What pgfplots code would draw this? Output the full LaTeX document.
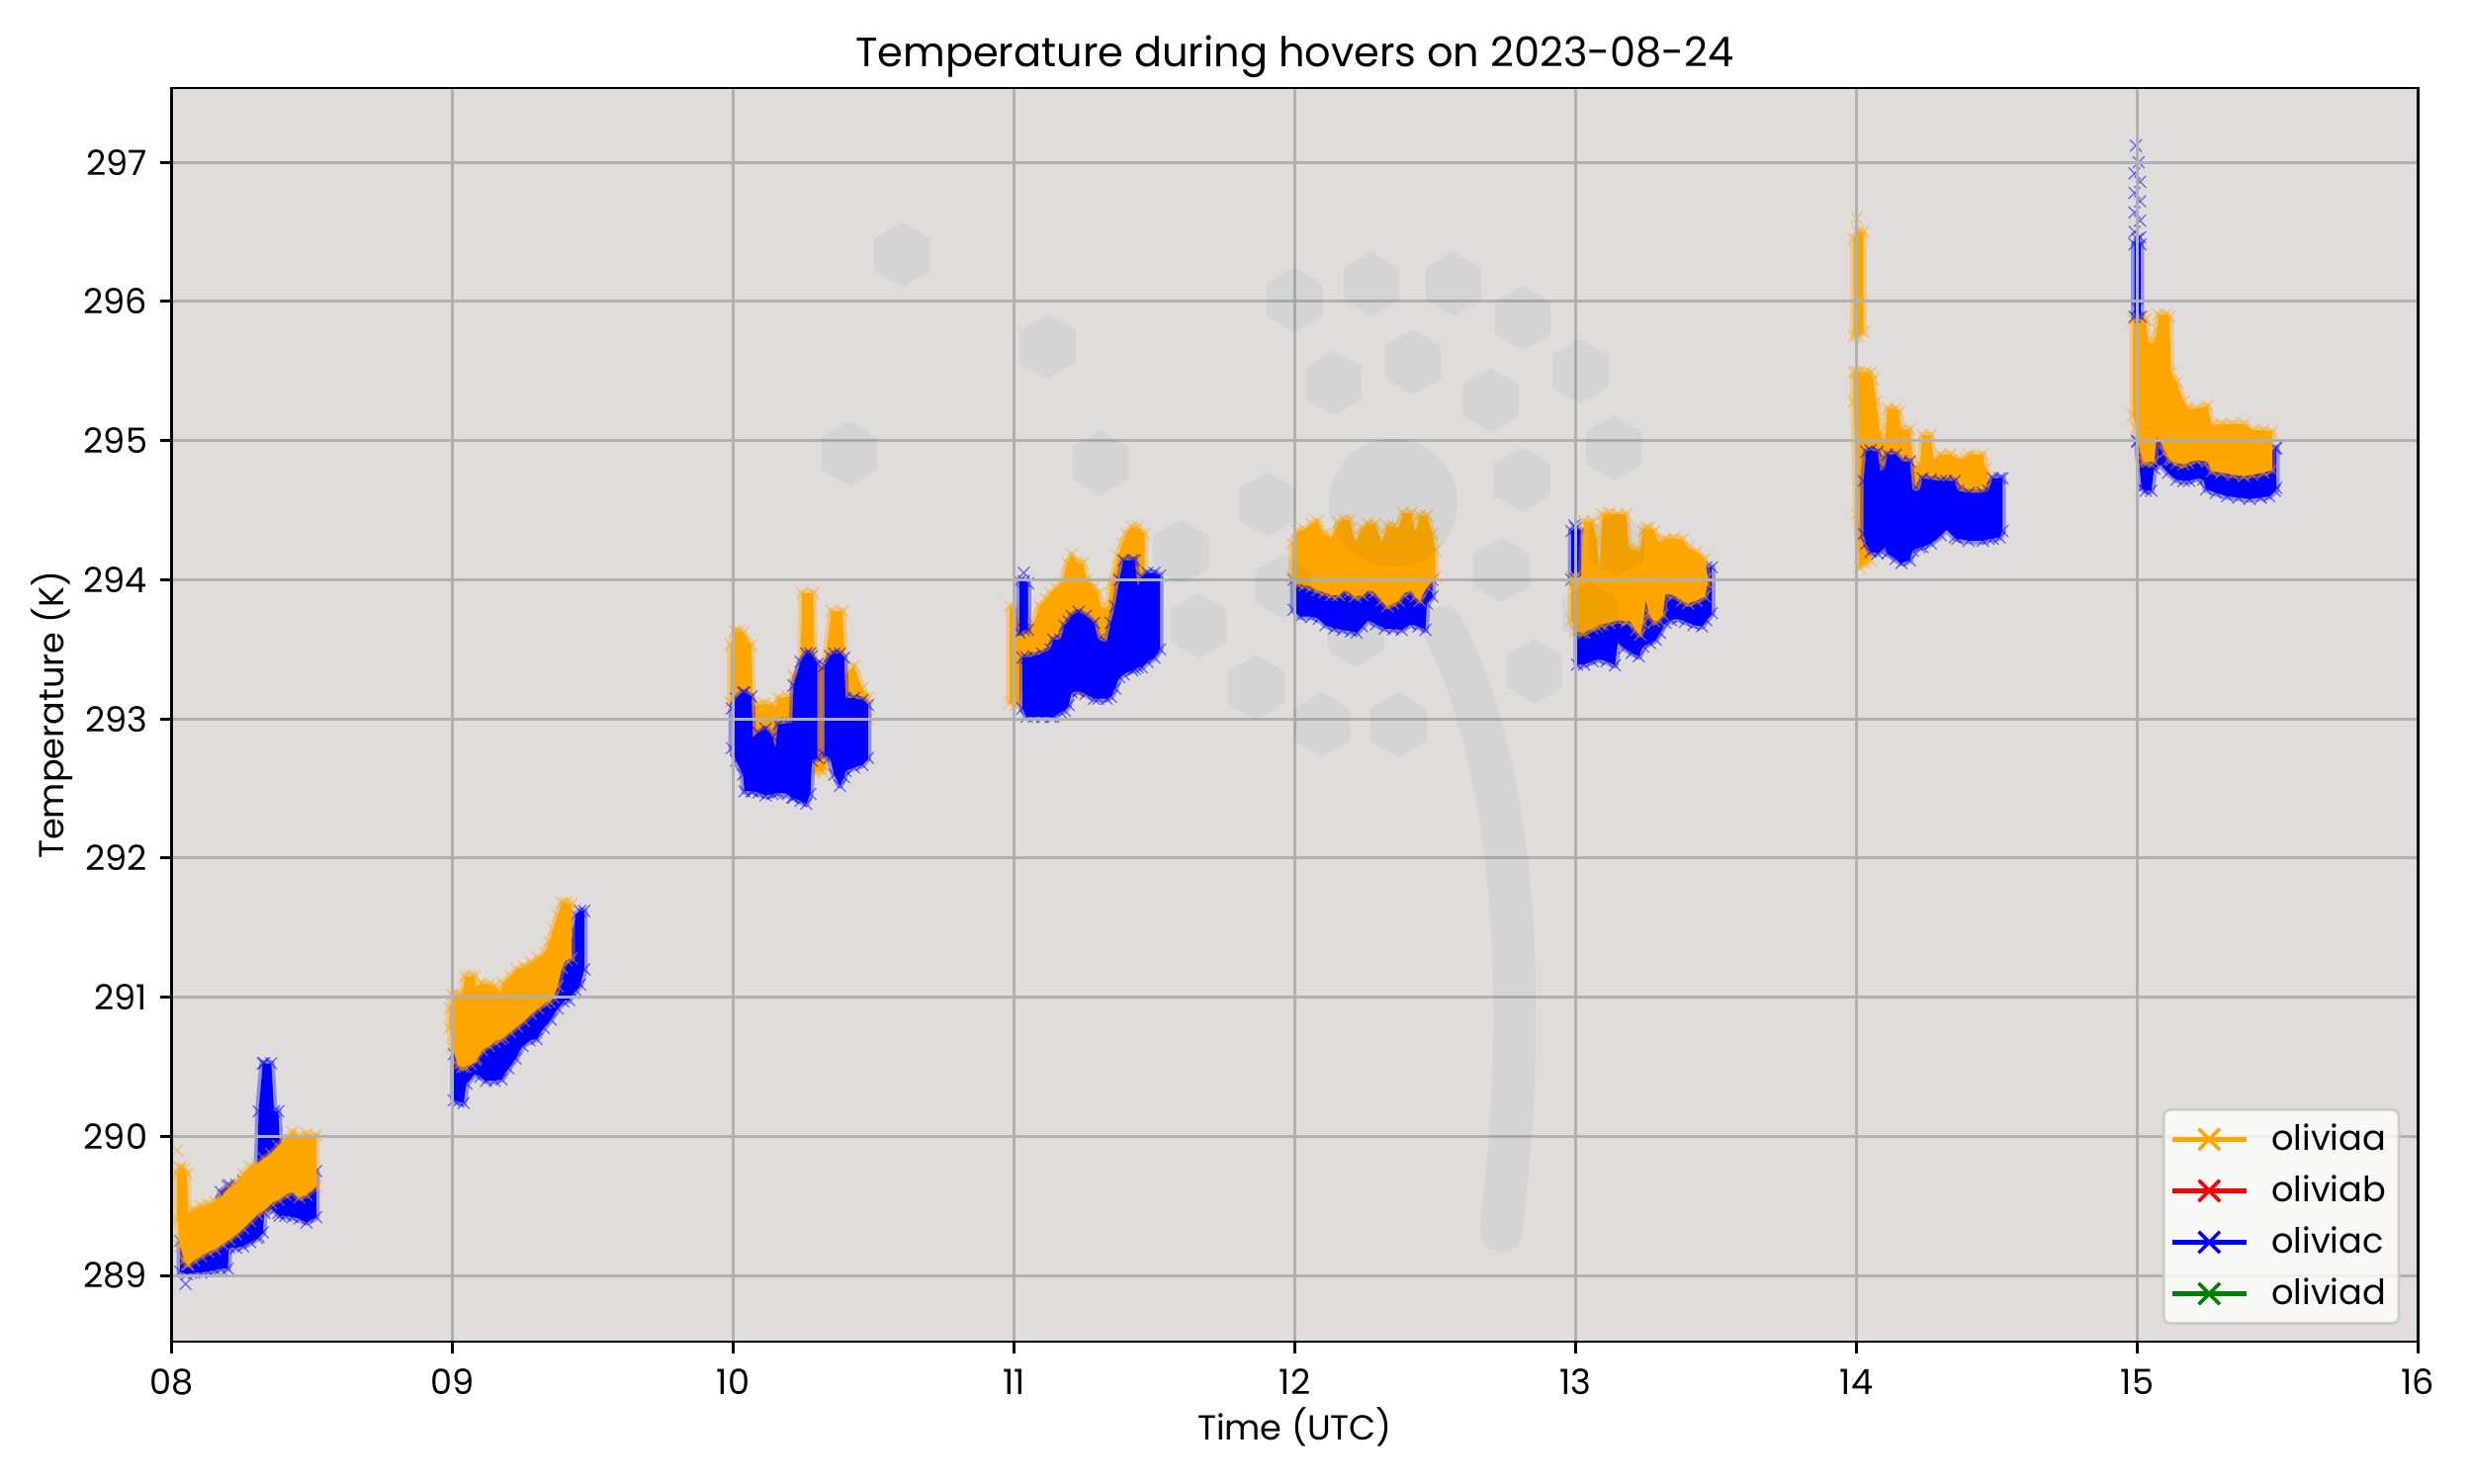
\documentclass[border=0pt]{standalone}
\usepackage{fontspec}
\setmainfont{Poppins}
\usepackage{pgfplots}
\usepackage{pgfplotstable}
\pgfplotsset{compat=1.18}
\definecolor{bgc}{HTML}{E0DCDB}
\definecolor{gridc}{HTML}{B0B0B0}
\definecolor{wm}{RGB}{0,80,80}
\definecolor{oa}{HTML}{FFA500}
\definecolor{ob}{HTML}{FF0000}
\definecolor{oc}{HTML}{0000FF}
\definecolor{od}{HTML}{008000}
% hover 08
\pgfplotstableread{
x lo hi
8.02 289.40 289.733
8.03 289.21 289.769
8.045 289.11 289.77
8.055 289.08 289.73
8.06 289.08 289.45
8.08 289.11 289.47
8.105 289.14 289.50
8.13 289.17 289.51
8.155 289.19 289.53
8.18 289.225 289.57
8.205 289.26 289.63
8.23 289.295 289.66
8.255 289.34 289.73
8.28 289.39 289.78
8.305 289.44 289.80
8.33 289.47 289.84
8.355 289.52 289.875
8.38 289.545 289.93
8.405 289.58 289.98
8.43 289.60 290.03
8.455 289.56 290.0
8.48 289.58 290.02
8.515 289.64 290.005
}\OA
\pgfplotstableread{
x lo hi
8.03 289.03 289.25
8.055 289.01 289.25
8.08 289.02 289.3
8.105 289.02 289.3
8.13 289.03 289.35
8.155 289.04 289.4
8.175 289.05 289.6
8.2 289.05 289.64
8.205 289.2 289.65
8.23 289.2 289.65
8.255 289.21 289.68
8.28 289.24 289.7
8.305 289.27 289.75
8.31 289.28 290.18
8.325 289.31 290.525
8.33 289.45 290.525
8.355 289.485 290.525
8.365 289.47 290.18
8.38 289.45 290.18
8.385 289.43 289.97
8.405 289.43 289.9
8.43 289.42 289.8
8.455 289.41 289.7
8.48 289.38 289.7
8.515 289.42 289.75
}\BA
% hover 09
\pgfplotstableread{
x lo hi
8.99 290.78 290.92
9.0 290.64 291.02
9.02 290.51 291.02
9.035 290.50 291.02
9.045 290.50 291.15
9.065 290.52 291.15
9.08 290.55 291.15
9.085 290.56 291.07
9.105 290.62 291.10
9.13 290.65 291.09
9.15 290.68 291.08
9.17 290.70 291.03
9.18 290.71 291.10
9.205 290.75 291.15
9.23 290.79 291.20
9.255 290.83 291.22
9.28 290.88 291.25
9.305 290.92 291.28
9.33 290.96 291.32
9.345 290.97 291.40
9.36 291.0 291.49
9.375 291.08 291.59
9.39 291.21 291.68
9.405 291.27 291.68
9.425 291.28 291.67
}\OB
\pgfplotstableread{
x lo hi
9.005 290.26 290.59
9.02 290.25 290.59
9.04 290.24 290.59
9.05 290.38 290.52
9.08 290.45 290.52
9.1 290.43 290.59
9.12 290.40 290.64
9.15 290.40 290.68
9.175 290.41 290.71
9.2 290.49 290.75
9.225 290.56 290.78
9.25 290.65 290.83
9.275 290.69 290.88
9.3 290.70 290.92
9.325 290.78 290.96
9.35 290.84 290.98
9.375 290.92 291.14
9.395 290.97 291.26
9.415 290.98 291.27
9.43 291.03 291.49
9.44 291.05 291.59
9.455 291.09 291.62
9.47 291.20 291.62
}\BB
% hover 10
\pgfplotstableread{
x lo hi
9.99 293.12 293.53
10.005 293.10 293.63
10.02 293.10 293.63
10.035 293.10 293.62
10.065 293.10 293.53
10.07 292.86 293.075
10.09 292.885 293.10
10.11 292.91 293.11
10.14 292.84 293.10
10.15 292.79 293.08
10.16 292.93 293.15
10.195 292.96 293.16
10.21 292.96 293.16
10.215 293.0 293.31
10.24 293.0 293.38
10.245 292.9 293.905
10.285 292.9 293.905
10.29 292.62 293.38
10.32 292.62 293.38
10.325 292.65 293.38
10.35 292.9 293.775
10.39 292.9 293.775
10.4 293.0 293.31
10.43 293.0 293.38
10.46 293.0 293.22
10.48 293.0 293.15
}\OC
\pgfplotstableread{
x lo hi
9.995 292.79 293.075
10.01 292.70 293.145
10.035 292.60 293.19
10.04 292.48 293.19
10.065 292.48 293.16
10.07 292.48 292.86
10.09 292.47 292.90
10.115 292.45 292.93
10.14 292.46 292.87
10.15 292.47 292.79
10.16 292.47 292.96
10.195 292.46 292.97
10.21 292.435 292.97
10.215 292.435 293.24
10.24 292.41 293.41
10.26 292.39 293.47
10.275 292.46 293.47
10.28 292.70 293.45
10.3 292.72 293.395
}\BCa
\pgfplotstableread{
x lo hi
10.325 292.74 293.38
10.345 292.72 293.45
10.36 292.60 293.47
10.38 292.52 293.47
10.395 292.58 293.44
10.4 292.625 293.15
10.43 292.65 293.15
10.46 292.67 293.135
10.48 292.72 293.10
}\BCb
% hover 11
\pgfplotstableread{
x lo hi
10.985 293.12 293.81
11.005 293.10 293.79
11.015 293.10 293.715
11.03 293.2 293.62
11.055 293.2 293.66
11.07 293.2 293.69
11.09 293.2 293.81
11.115 293.2 293.86
11.13 293.2 293.905
11.15 293.2 293.94
11.17 293.2 293.975
11.19 293.2 294.12
11.205 293.2 294.18
11.225 293.2 294.12
11.245 293.2 294.12
11.26 293.2 294.0
11.285 293.2 293.95
11.3 293.2 293.90
11.31 293.55 293.80
11.335 293.55 293.80
11.345 293.4 293.975
11.37 293.4 294.165
11.385 293.4 294.26
11.4 293.4 294.33
11.42 293.4 294.38
11.44 293.85 294.38
11.465 293.8 294.33
}\OD
\pgfplotstableread{
x lo hi
11.02 293.62 293.99
11.035 293.64 293.99
11.05 293.64 293.975
}\BDa
\pgfplotstableread{
x lo hi
11.03 293.075 293.44
11.045 293.015 293.44
11.07 293.015 293.45
11.1 293.015 293.47
11.13 293.015 293.50
11.14 293.015 293.57
11.165 293.05 293.57
11.18 293.06 293.67
11.195 293.10 293.70
11.205 293.19 293.74
11.23 293.20 293.77
11.255 293.18 293.74
11.285 293.145 293.69
11.3 293.145 293.57
11.33 293.145 293.55
11.345 293.16 293.69
11.36 293.22 293.81
11.375 293.30 294.0
11.39 293.32 294.14
11.42 293.35 294.14
11.43 293.36 294.14
11.44 293.37 293.95
11.455 293.37 294.02
11.475 293.41 294.05
11.5 293.44 294.05
11.52 293.50 294.03
}\BDb
% hover 12
\pgfplotstableread{
x lo hi
11.99 294.02 294.26
12.01 293.97 294.35
12.035 293.96 294.36
12.06 293.95 294.40
12.08 293.925 294.42
12.105 293.91 294.33
12.13 293.89 294.30
12.155 293.89 294.41
12.175 293.925 294.43
12.195 293.91 294.43
12.215 293.88 294.27
12.24 293.89 294.37
12.26 293.925 294.40
12.285 293.91 294.40
12.31 293.85 294.27
12.33 293.81 294.385
12.35 293.83 294.385
12.37 293.85 294.37
12.385 293.90 294.48
12.415 293.925 294.48
12.43 293.88 294.34
12.445 293.85 294.46
12.47 293.95 294.46
12.49 293.995 294.33
12.50 294.02 294.21
}\OE
\pgfplotstableread{
x lo hi
11.995 293.785 294.0
12.02 293.735 294.0
12.06 293.735 294.0
12.085 293.72 294.0
12.11 293.675 294.0
12.14 293.65 294.0
12.17 293.64 294.0
12.2 293.63 294.0
12.22 293.62 294.0
12.24 293.665 294.0
12.26 293.71 294.0
12.29 293.68 294.0
12.32 293.65 294.0
12.35 293.645 294.0
12.38 293.64 294.0
12.41 293.68 294.0
12.44 293.665 294.0
12.465 293.64 294.0
12.47 293.83 294.0
12.49 293.88 294.0
}\BE
% hover 13
\pgfplotstableread{
x lo hi
12.985 293.71 294.02
13.0 293.63 294.02
13.02 293.62 294.02
13.03 293.62 294.42
13.06 293.65 294.42
13.075 293.665 294.28
13.085 293.68 294.07
13.095 293.68 294.47
13.12 293.69 294.48
13.15 293.71 294.47
13.18 293.70 294.47
13.19 293.71 294.23
13.215 293.64 294.21
13.23 293.605 294.21
13.24 293.69 294.35
13.25 293.85 294.37
13.26 293.76 294.37
13.28 293.70 294.35
13.295 293.71 294.27
13.31 293.75 294.28
13.32 293.90 294.29
13.35 293.89 294.30
13.38 293.85 294.29
13.4 293.83 294.23
13.43 293.85 294.20
13.46 293.88 294.15
13.47 293.97 294.02
}\OF
\pgfplotstableread{
x lo hi
12.985 294.0 294.35
13.0 294.0 294.37
13.02 294.0 294.35
}\BFa
\pgfplotstableread{
x lo hi
13.005 293.39 293.9
13.03 293.39 293.9
13.06 293.415 293.9
13.08 293.43 293.9
13.11 293.415 293.9
13.14 293.385 293.9
13.15 293.55 293.9
13.175 293.51 293.9
13.2 293.475 293.9
13.225 293.45 293.9
13.24 293.52 293.9
13.265 293.545 293.9
13.285 293.57 293.9
13.3 293.62 293.9
13.32 293.69 293.9
13.34 293.71 293.9
13.365 293.72 293.9
13.39 293.70 293.9
13.42 293.675 293.9
13.45 293.665 293.95
13.465 293.71 294.09
13.485 293.76 294.09
}\BFb
% hover 14
\pgfplotstableread{
x lo hi
13.99 295.75 296.45
14.005 295.75 296.5
14.025 295.78 296.5
}\OGa
\pgfplotstableread{
x lo hi
13.99 295.28 295.49
14.0 294.47 295.49
14.01 294.09 295.49
14.03 294.12 295.49
14.05 294.14 295.49
14.06 294.6 295.44
14.07 294.5 295.28
14.085 294.5 295.06
14.1 294.5 294.98
14.11 294.5 295.23
14.14 294.5 295.23
14.15 294.5 295.20
14.16 294.5 295.08
14.19 294.5 295.08
14.205 294.5 294.80
14.225 294.5 294.83
14.235 294.5 295.04
14.265 294.5 295.04
14.275 294.5 294.86
14.3 294.5 294.90
14.335 294.5 294.90
14.37 294.5 294.86
14.39 294.5 294.87
14.4 294.5 294.90
14.45 294.5 294.90
14.46 294.5 294.80
14.47 294.5 294.72
14.49 294.5 294.66
}\OGb
\pgfplotstableread{
x lo hi
14.025 294.33 294.71
14.035 294.26 294.92
14.05 294.2 294.93
14.075 294.19 294.92
14.085 294.21 294.78
14.1 294.235 294.79
14.11 294.19 294.90
14.14 294.15 294.90
14.16 294.12 294.85
14.19 294.14 294.85
14.2 294.21 294.64
14.225 294.235 294.64
14.235 294.235 294.73
14.265 294.26 294.72
14.3 294.32 294.71
14.32 294.365 294.71
14.35 294.305 294.71
14.36 294.295 294.64
14.4 294.28 294.625
14.45 294.28 294.625
14.47 294.295 294.64
14.485 294.295 294.73
14.51 294.305 294.73
14.52 294.35 294.73
}\BG
% hover 15
\pgfplotstableread{
x lo hi
14.985 295.18 295.87
14.995 295.09 295.88
15.01 294.92 295.89
15.02 294.85 295.89
15.03 294.85 295.87
15.04 294.85 295.70
15.06 294.85 295.70
15.07 295.04 295.80
15.075 295.02 295.905
15.1 294.92 295.905
15.115 294.87 295.89
15.12 294.86 295.49
15.14 294.84 295.42
15.165 294.83 295.28
15.18 294.84 295.23
15.21 294.86 295.23
15.25 294.85 295.25
15.265 294.78 295.11
15.3 294.77 295.12
15.34 294.755 295.12
15.38 294.745 295.12
15.41 294.755 295.075
15.45 294.77 295.075
15.48 294.79 295.06
}\OH
\pgfplotstableread{
x lo hi
15.0 294.99 295.0
15.015 294.66 295.0
15.03 294.64 295.0
15.05 294.64 295.0
15.06 294.80 295.0
15.085 294.83 295.0
15.11 294.77 295.0
15.14 294.72 295.0
15.165 294.71 295.0
15.185 294.71 295.0
15.21 294.73 295.0
15.235 294.72 295.0
15.245 294.65 295.0
15.28 294.625 294.9
15.32 294.60 294.9
15.36 294.59 294.9
15.4 294.58 294.9
15.44 294.59 294.9
15.47 294.60 294.9
15.49 294.64 294.945
15.495 294.66 294.945
}\BHa
\pgfplotstableread{
x lo hi
14.99 295.89 296.41
15.0 295.95 296.45
15.012 295.89 296.41
}\BHb
% sparse single readings
\pgfplotstableread{
x y
8.02 289.90
14.0 296.6
8.03 289.78
}\OX
\pgfplotstableread{
x y
8.05 288.94
14.995 297.12
15.005 297.0
14.99 296.92
15.01 296.86
14.99 296.78
15.01 296.72
14.99 296.64
15.01 296.58
14.99 296.5
15.01 296.46
12.995 294.39
11.035 294.05
}\BX
\newcommand\band[2]{%
  \pgfplotstablegetrowsof{#2}\pgfmathtruncatemacro\lastrow{\pgfplotsretval-1}%
  \def\fw{}\def\bw{}%
  \pgfplotsforeachungrouped \rr in {0,...,\lastrow}{%
    \pgfplotstablegetelem{\rr}{x}\of{#2}\let\cx\pgfplotsretval
    \pgfplotstablegetelem{\rr}{lo}\of{#2}\let\cl\pgfplotsretval
    \pgfplotstablegetelem{\rr}{hi}\of{#2}\let\ch\pgfplotsretval
    \ifnum\rr=0 \edef\first{(\cx,\ch)}\fi
    \edef\fw{\fw(\cx,\ch)}\edef\bw{(\cx,\cl)\bw}%
  }%
  \edef\tmp{\noexpand\addplot[draw=#1,draw opacity=.35,line width=2pt,line join=round,forget plot] coordinates {\fw\bw\first};}\tmp
  \edef\tmp{\noexpand\addplot[fill=#1,draw=none,forget plot] coordinates {\fw\bw\first};}\tmp
  \addplot[only marks,forget plot,mark=x,mark size=2.4pt,#1,mark options={line width=.35pt,opacity=.55}] table[x=x,y=hi]{#2};
  \addplot[only marks,forget plot,mark=x,mark size=2.4pt,#1,mark options={line width=.35pt,opacity=.55}] table[x=x,y=lo]{#2};
}
\begin{document}
\begin{tikzpicture}[x=1cm,y=1cm]
\path[use as bounding box] (0,0) rectangle (25,15);
\begin{axis}[
  at={(1.735cm,1.43cm)},anchor=south west,
  scale only axis,width=22.72cm,height=12.68cm,
  xmin=8,xmax=16,ymin=288.525,ymax=297.534,
  clip mode=individual,
  axis background/.style={fill=bgc},
  axis on top,
  axis line style={line width=.8pt},
  grid=major,
  major grid style={gridc,line width=.8pt},
  tick align=outside,tick pos=left,
  major tick length=.12cm,
  every tick/.style={black,line width=.8pt},
  xtick={8,...,16},
  xticklabels={08,09,10,11,12,13,14,15,16},
  ytick={289,...,297},
  yticklabels={289,290,291,292,293,294,295,296,297},
  tick label style={font=\fontsize{10}{12}\selectfont},
  x tick label style={yshift=-1pt},
  title={Temperature during hovers on 2023-08-24},
  title style={font=\fontsize{11.8}{14}\selectfont,at={(axis description cs:0.5,1)},yshift=.11cm,anchor=center},
  xlabel={Time (UTC)},
  ylabel={Temperature (K)},
  label style={font=\fontsize{10}{12}\selectfont},
  every axis x label/.style={at={(axis description cs:0.5,0)},yshift=-.86cm,anchor=center},
  every axis y label/.style={at={(axis description cs:0,0.5)},xshift=-1.21cm,anchor=center,rotate=90},
  legend cell align=left,
  legend image code/.code={
    \draw[mark repeat=2,mark phase=2,#1] plot coordinates {(0cm,0cm)(.375cm,0cm)(.75cm,0cm)};
  },
  legend style={at={(1,0)},anchor=south east,xshift=-.18cm,yshift=.17cm,
    draw=black!20,line width=.8pt,rounded corners=2pt,fill=white,fill opacity=.8,text opacity=1,
    font=\fontsize{10}{12}\selectfont,row sep=1.7pt,inner xsep=1.7pt,inner ysep=2pt,
    /tikz/every odd column/.append style={column sep=.16cm}},
]
\addlegendimage{oa,line width=1.5pt,mark=x,mark size=4.3pt,mark options={solid,line width=1pt}}
\addlegendentry{oliviaa}
\addlegendimage{ob,line width=1.5pt,mark=x,mark size=4.3pt,mark options={solid,line width=1pt}}
\addlegendentry{oliviab}
\addlegendimage{oc,line width=1.5pt,mark=x,mark size=4.3pt,mark options={solid,line width=1pt}}
\addlegendentry{oliviac}
\addlegendimage{od,line width=1.5pt,mark=x,mark size=4.3pt,mark options={solid,line width=1pt}}
\addlegendentry{oliviad}
\band{oc}{\BA}\band{oa}{\OA}
\band{oc}{\BB}\band{oa}{\OB}
\band{oa}{\OC}\band{oc}{\BCa}\band{oc}{\BCb}
\band{oa}{\OD}\band{oc}{\BDa}\band{oc}{\BDb}
\band{oc}{\BE}\band{oa}{\OE}
\band{oc}{\BFa}\band{oc}{\BFb}\band{oa}{\OF}
\band{oa}{\OGa}\band{oa}{\OGb}\band{oc}{\BG}
\band{oc}{\BHa}\band{oa}{\OH}\band{oc}{\BHb}
\addplot[only marks,forget plot,mark=x,mark size=2.4pt,oa,mark options={line width=.35pt,opacity=.55}] table[x=x,y=y]{\OX};
\addplot[only marks,forget plot,mark=x,mark size=2.4pt,oc,mark options={line width=.35pt,opacity=.55}] table[x=x,y=y]{\BX};
\end{axis}
% faint logo watermark over the plot
\newcommand\hexa[2]{\fill[wm,opacity=.055] ({#1/100},{(1500-#2)/100}) ++(90:.326) -- ++(-30:.326) -- ++(-90:.326) -- ++(-150:.326) -- ++(150:.326) -- ++(90:.326) -- cycle;}
\hexa{912.3}{257.5}\hexa{1059.6}{350.8}\hexa{859}{458.9}\hexa{1112.9}{468}\hexa{1281.4}{510}
\hexa{1309.5}{303}\hexa{1386.8}{287}\hexa{1469.9}{287}\hexa{1539.8}{321.4}\hexa{1598.3}{375.4}
\hexa{1429.2}{366.3}\hexa{1349}{387.3}\hexa{1507.7}{404.8}\hexa{1632}{453.2}\hexa{1539.3}{484.8}
\hexa{1194.3}{558.5}\hexa{1212}{632.8}\hexa{1297.4}{593.5}\hexa{1371.3}{642}\hexa{1270.5}{695.3}
\hexa{1337}{733}\hexa{1414.3}{733}\hexa{1518.6}{576.7}\hexa{1551.3}{679}\hexa{1635}{550.8}\hexa{1608}{621}
\fill[wm,opacity=.055] (14.09,9.913) circle (.65);
\draw[wm,opacity=.055,line width=.43cm,line cap=round] (14.59,8.65) .. controls (15.30,7.30) and (15.48,5.0) .. (15.18,2.55);
\end{tikzpicture}
\end{document}
